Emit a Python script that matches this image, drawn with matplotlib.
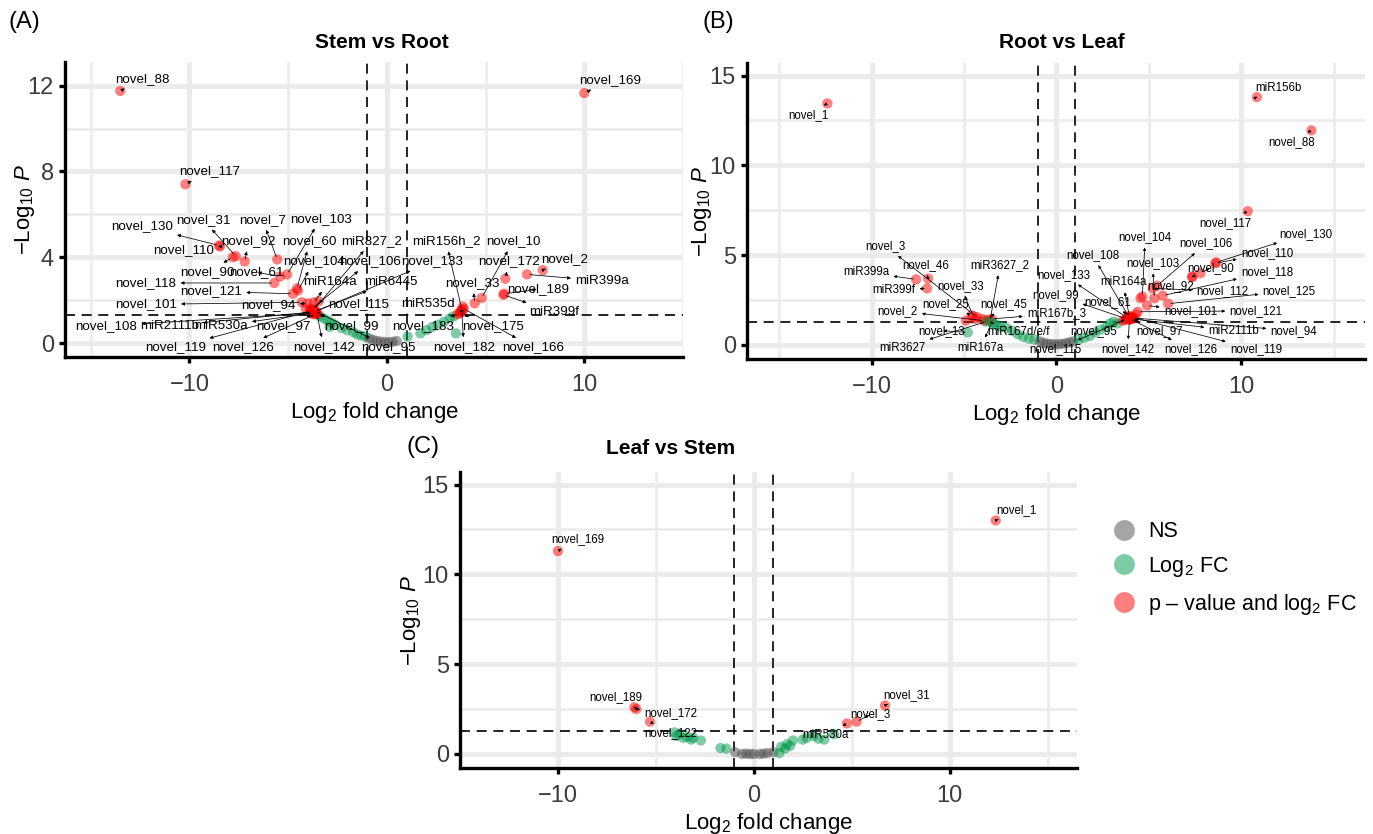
import matplotlib.pyplot as plt
import numpy as np
from matplotlib.lines import Line2D

# cut-offs used for the colour classes
FC_CUT = 1.0
P_CUT = 0.05

# ---------------- Panel A: Stem vs Root ----------------
A_NAMES = ["novel_88", "novel_169", "novel_117", "novel_130", "novel_110", "novel_31",
           "novel_90", "novel_92", "novel_7", "novel_61", "novel_103", "novel_60",
           "novel_104", "novel_118", "novel_121", "novel_101", "novel_94", "miR164a",
           "miR6445", "miR827_2", "novel_106", "novel_133", "novel_115", "novel_108",
           "miR2111b", "miR530a", "novel_97", "novel_119", "novel_126", "novel_142",
           "novel_99", "novel_95", "miR156h_2", "novel_10", "novel_172", "novel_2",
           "miR399a", "novel_33", "novel_189", "miR399f", "miR535d", "novel_183",
           "novel_175", "novel_182", "novel_166"]
A_LFC = [-13.5, 10.0, -10.2, -8.5, -8.45, -7.65, -7.8, -7.2, -5.55, -5.4, -5.05, -4.55,
         -4.5, -5.7, -4.75, -4.3, -4.0, -3.7, -3.6, -3.7, -3.8, -3.65, -3.45, -3.8,
         -3.75, -3.7, -3.75, -3.85, -3.6, -3.55, -3.5, -3.65, 3.8, 4.8, 6.0, 7.9,
         7.1, 4.45, 5.95, 5.9, 3.75, 3.6, 3.7, 3.8, 3.9]
A_LOGP = [11.75, 11.65, 7.4, 4.55, 4.5, 4.05, 4.0, 3.8, 3.9, 3.1, 3.2, 2.55,
          2.45, 2.8, 2.3, 1.9, 1.85, 1.9, 1.5, 1.55, 1.6, 1.45, 1.95, 1.4,
          1.45, 1.4, 1.35, 1.5, 1.35, 1.4, 1.35, 1.5, 1.55, 2.1, 3.0, 3.4,
          3.2, 1.85, 2.3, 2.25, 1.5, 1.35, 1.4, 1.45, 1.6]
A_LABEL_X = [-12.4, 11.3, -9.0, -12.4, -10.3, -9.3, -9.1, -7.0, -6.3, -6.6, -3.35, -3.9,
             -3.7, -12.2, -8.9, -12.2, -6.0, -2.9, 0.2, -0.75, -0.85, 2.3, -1.45, -14.2,
             -11.0, -8.4, -5.25, -10.7, -7.3, -3.2, -1.8, 0.1, 3.0, 6.4, 6.2, 9.0,
             10.9, 4.35, 7.65, 8.45, 2.1, 1.85, 5.4, 3.9, 7.4]
A_LABEL_Y = [12.3, 12.25, 8.0, 5.45, 4.35, 5.75, 3.3, 4.75, 5.75, 3.3, 5.8, 4.75,
             3.8, 2.8, 2.4, 1.8, 1.75, 2.85, 2.85, 4.75, 3.8, 3.8, 1.8, 0.8,
             0.8, 0.8, 0.8, -0.2, -0.2, -0.2, 0.8, -0.2, 4.75, 4.75, 3.8, 3.9,
             2.9, 2.8, 2.5, 1.45, 1.8, 0.8, 0.8, -0.2, -0.2]
A_OTHER_LFC = [-3.4, -3.2, -3.0, -2.9, -2.8, -2.6, -2.3, -2.0, -1.7, -1.5, -1.3, -1.1,
               -0.9, -0.7, -0.5, -0.3, -0.1, 0.1, 0.3, 0.5,
               1.05, 1.7, 2.0, 2.3, 2.6, 2.9, 3.2, 3.4, 3.5, -3.9, -4.1, 3.85]
A_OTHER_LOGP = [1.25, 1.15, 1.05, 0.75, 0.95, 0.85, 0.7, 0.6, 0.5, 0.4, 0.35, 0.3,
                0.22, 0.15, 0.1, 0.07, 0.05, 0.04, 0.06, 0.1,
                0.3, 0.45, 0.6, 0.75, 0.85, 1.0, 1.15, 1.25, 0.45, 1.55, 1.6, 1.7]

# ---------------- Panel B: Root vs Leaf ----------------
B_NAMES = ["novel_1", "miR156b", "novel_88", "novel_117", "novel_130", "novel_110",
           "novel_90", "novel_118", "novel_106", "novel_104", "novel_103", "novel_92",
           "novel_112", "novel_125", "novel_101", "novel_121", "novel_108", "novel_133",
           "miR164a", "novel_99", "novel_61", "novel_97", "miR2111b", "novel_94",
           "novel_95", "novel_142", "novel_126", "novel_119", "novel_115",
           "novel_3", "novel_46", "miR399a", "miR399f", "novel_33", "miR3627_2",
           "novel_25", "novel_45", "novel_2", "miR167b_3", "novel_13", "miR167d/e/f",
           "miR3627", "miR167a"]
B_LFC = [-12.4, 10.85, 13.8, 10.35, 8.65, 8.6, 7.8, 5.75, 5.45, 4.65, 5.3, 7.35,
         5.2, 6.05, 4.9, 4.4, 3.9, 3.85, 3.95, 3.8, 4.0, 4.05, 4.1, 4.2,
         3.7, 3.95, 4.0, 4.1, 3.6,
         -4.3, -6.95, -7.6, -7.0, -4.5, -3.6, -4.6, -3.7, -3.9, -3.5, -4.8, -3.4,
         -3.8, -3.5]
B_LOGP = [13.45, 13.8, 11.95, 7.45, 4.6, 4.55, 4.0, 2.75, 3.3, 2.7, 2.6, 3.8,
          3.15, 2.3, 2.2, 1.85, 1.6, 1.5, 1.55, 1.45, 1.6, 1.5, 1.45, 1.5,
          1.4, 1.4, 1.45, 1.55, 1.35,
          1.55, 3.7, 3.65, 3.15, 1.6, 1.35, 1.65, 1.4, 1.35, 1.45, 0.7, 1.2,
          1.3, 1.25]
B_LABEL_X = [-13.4, 12.0, 12.7, 9.15, 13.5, 11.4, 8.35, 11.4, 8.1, 4.8, 5.2, 6.2,
             9.0, 12.6, 7.25, 10.8, 1.95, 0.4, 3.6, -0.05, 2.75, 5.6, 9.6, 12.85,
             2.0, 3.85, 7.25, 10.8, -0.05,
             -9.25, -7.1, -10.3, -8.8, -5.2, -3.05, -6.0, -2.85, -8.6, 0.0, -6.2, -2.05,
             -8.35, -4.1]
B_LABEL_Y = [12.8, 14.3, 11.3, 6.8, 6.2, 5.1, 4.3, 4.05, 5.65, 6.0, 4.55, 3.3,
             3.0, 3.0, 1.9, 1.9, 5.0, 3.9, 3.5, 2.8, 2.4, 0.8, 0.8, 0.8,
             0.8, -0.25, -0.25, -0.25, -0.25,
             5.5, 4.45, 4.05, 3.05, 3.3, 4.45, 2.3, 2.3, 1.9, 1.75, 0.8, 0.7,
             -0.15, -0.15]
B_OTHER_LFC = [-4.9, -4.4, -4.0, -3.2, -3.0, -2.7, -2.4, -2.1, -1.8, -1.5, -1.2,
               -0.9, -0.7, -0.5, -0.3, -0.1, 0.1, 0.3, 0.5, 0.7, 0.9,
               1.2, 1.5, 1.8, 2.1, 2.4, 2.7, 2.9, 3.1, 3.3, 4.55, 7.35, 4.3]
B_OTHER_LOGP = [1.35, 1.45, 1.45, 1.1, 1.0, 0.95, 0.8, 0.6, 0.45, 0.35, 0.3,
                0.2, 0.12, 0.08, 0.05, 0.04, 0.04, 0.06, 0.1, 0.15, 0.2,
                0.3, 0.4, 0.5, 0.7, 0.85, 1.0, 1.2, 1.3, 1.2, 2.6, 3.8, 1.7]

# ---------------- Panel C: Leaf vs Stem ----------------
C_NAMES = ["novel_169", "novel_1", "novel_189", "novel_172", "novel_122",
           "novel_31", "novel_3", "miR530a"]
C_LFC = [-10.0, 12.35, -6.1, -6.0, -5.3, 6.7, 5.25, 4.75]
C_LOGP = [11.3, 13.0, 2.6, 2.5, 1.8, 2.7, 1.8, 1.7]
C_LABEL_X = [-9.0, 13.4, -7.05, -4.25, -4.25, 7.8, 5.95, 3.65]
C_LABEL_Y = [11.95, 13.6, 3.15, 2.3, 1.15, 3.3, 2.2, 1.05]
C_OTHER_LFC = [-4.05, -3.95, -3.8, -3.6, -3.4, -3.2, -3.1, -2.7, -1.7, -1.4,
               -0.95, -0.6, -0.4, -0.2, 0.0, 0.3, 0.5, 0.7,
               1.0, 1.3, 1.4, 1.6, 1.7, 1.85, 2.0, 2.5, 2.7, 3.05, 3.3, 3.6, 4.1]
C_OTHER_LOGP = [1.2, 1.0, 1.1, 0.9, 0.95, 0.8, 0.9, 0.75, 0.33, 0.3,
                0.1, 0.0, 0.02, 0.0, 0.0, 0.0, 0.02, 0.05,
                0.1, 0.05, 0.4, 0.3, 0.55, 0.45, 0.75, 0.8, 0.9, 1.0, 0.85, 0.8, 1.1]

LEGEND_LABELS = ["NS", r"$\mathrm{Log}_{2}$ FC", r"p – value and $\mathrm{log}_{2}$ FC"]

GREY = "#4d4d4d"
GREEN = "#00994c"
RED = "#ff0000"
GRID = "#ebebeb"
TICK_GREY = "#3c3c3c"

plt.rcParams["font.family"] = ["Liberation Sans", "DejaVu Sans"]
plt.rcParams["mathtext.fontset"] = "custom"
plt.rcParams["mathtext.rm"] = "Liberation Sans"
plt.rcParams["mathtext.it"] = "Liberation Sans:italic"
plt.rcParams["mathtext.bf"] = "Liberation Sans:bold"

W, H = 1373, 834


def px_axes(fig, left, top, right, bottom):
    return fig.add_axes([left / W, 1 - bottom / H, (right - left) / W, (bottom - top) / H])


def point_colours(x, y):
    x = np.asarray(x)
    y = np.asarray(y)
    big_fc = np.abs(x) > FC_CUT
    small_p = y > -np.log10(P_CUT)
    return np.where(big_fc & small_p, RED, np.where(big_fc, GREEN, GREY))


def draw_panel(ax, names, lfc, logp, lab_x, lab_y, other_lfc, other_logp,
               xlim, ylim, ymajor, yminor, label_size, ylabel_x):
    all_x = np.concatenate([other_lfc, lfc])
    all_y = np.concatenate([other_logp, logp])
    ax.scatter(all_x, all_y, s=55, c=point_colours(all_x, all_y), alpha=0.5,
               linewidths=0, zorder=3)

    ax.axvline(-FC_CUT, color="black", lw=1.2, ls=(0, (6, 4)), zorder=2)
    ax.axvline(FC_CUT, color="black", lw=1.2, ls=(0, (6, 4)), zorder=2)
    ax.axhline(-np.log10(P_CUT), color="black", lw=1.2, ls=(0, (6, 4)), zorder=2)

    for name, px, py, tx, ty in zip(names, lfc, logp, lab_x, lab_y):
        ax.annotate(name, xy=(px, py), xytext=(tx, ty), ha="center", va="center",
                    fontsize=label_size, color="black", zorder=5,
                    arrowprops=dict(arrowstyle="<|-,head_length=0.2,head_width=0.1",
                                    color="black", lw=0.55, shrinkA=1, shrinkB=2))

    ax.set_xlim(*xlim)
    ax.set_ylim(*ylim)
    ax.set_xticks([-10, 0, 10])
    ax.set_xticks([-15, -5, 5, 15], minor=True)
    ax.set_yticks(ymajor)
    ax.set_yticks(yminor, minor=True)
    ax.grid(which="major", color=GRID, lw=3.6, zorder=0)
    ax.grid(which="minor", color=GRID, lw=1.8, zorder=0)
    ax.set_axisbelow(True)
    for side in ["top", "right"]:
        ax.spines[side].set_visible(False)
    for side in ["left", "bottom"]:
        ax.spines[side].set_linewidth(2.4)
    ax.tick_params(which="major", length=4, width=2.4, labelsize=17,
                   labelcolor=TICK_GREY)
    ax.tick_params(axis="x", which="major", pad=8)
    ax.tick_params(axis="y", which="major", pad=4)
    ax.tick_params(which="minor", length=0)
    ax.set_xlabel(r"$\mathrm{Log}_{2}$ fold change", fontsize=16, labelpad=3)
    ax.set_ylabel(r"$-\mathrm{Log}_{10}\ \mathit{P}$", fontsize=16)
    ax.yaxis.set_label_coords(ylabel_x, 0.5)


fig = plt.figure(figsize=(W / 100, H / 100), dpi=100)

ax_a = px_axes(fig, 65, 62, 683, 357)
draw_panel(ax_a, A_NAMES, A_LFC, A_LOGP, A_LABEL_X, A_LABEL_Y, A_OTHER_LFC, A_OTHER_LOGP,
           (-16.3, 12.9), (-0.65, 13.1), [0, 4, 8, 12], [2, 6, 10], 9.6, -0.046)

ax_b = px_axes(fig, 747, 63, 1365, 359)
draw_panel(ax_b, B_NAMES, B_LFC, B_LOGP, B_LABEL_X, B_LABEL_Y, B_OTHER_LFC, B_OTHER_LOGP,
           (-16.75, 16.7), (-0.78, 15.7), [0, 5, 10, 15], [2.5, 7.5, 12.5], 8.3, -0.054)

ax_c = px_axes(fig, 460, 472, 1077, 768)
draw_panel(ax_c, C_NAMES, C_LFC, C_LOGP, C_LABEL_X, C_LABEL_Y, C_OTHER_LFC, C_OTHER_LOGP,
           (-12.86, 16.5), (-0.78, 15.7), [0, 5, 10, 15], [2.5, 7.5, 12.5], 8.3, -0.06)

# titles and panel letters
fig.text(382 / W, 1 - 42 / H, "Stem vs Root", ha="center", va="center",
         fontsize=15, fontweight="bold")
fig.text(1062 / W, 1 - 42 / H, "Root vs Leaf", ha="center", va="center",
         fontsize=15, fontweight="bold")
fig.text(671 / W, 1 - 448 / H, "Leaf vs Stem", ha="center", va="center",
         fontsize=15, fontweight="bold")
fig.text(8 / W, 1 - 22 / H, "(A)", ha="left", va="center", fontsize=17)
fig.text(702 / W, 1 - 22 / H, "(B)", ha="left", va="center", fontsize=17)
fig.text(407 / W, 1 - 447 / H, "(C)", ha="left", va="center", fontsize=17)

handles = [Line2D([], [], ls="", marker="o", markersize=15, color=c, alpha=0.5,
                  markeredgewidth=0) for c in [GREY, GREEN, RED]]
fig.legend(handles, LEGEND_LABELS, loc="center left",
           bbox_to_anchor=(1094 / W, 1 - 569 / H), frameon=False, fontsize=15.5,
           handletextpad=0.6, labelspacing=0.6, handlelength=1.0)

fig.savefig("out.png", dpi=100)
